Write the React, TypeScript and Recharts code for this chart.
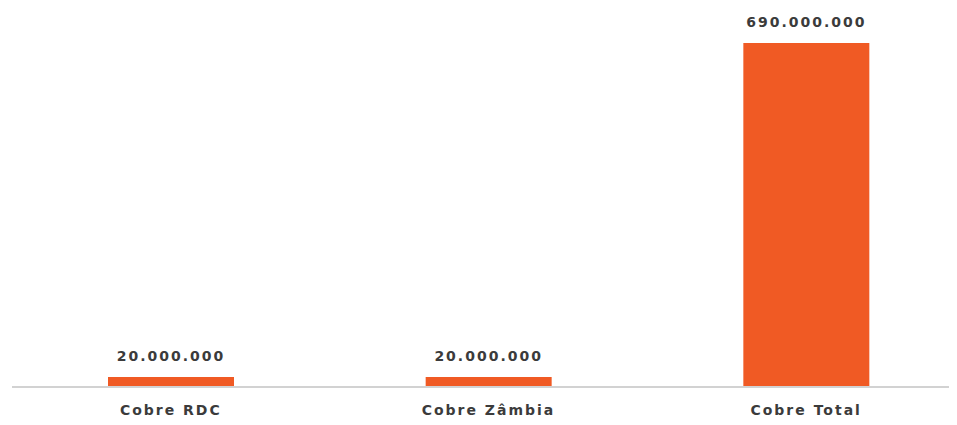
import React from 'react';
import { BarChart, Bar, XAxis, YAxis, LabelList } from 'recharts';

const categories = ['Cobre RDC', 'Cobre Zâmbia', 'Cobre Total'];
const values = [20000000, 20000000, 690000000];

const data = categories.map((name, i) => ({ name, value: values[i] }));

const formatDots = (v: number) => String(v).replace(/\B(?=(\d{3})+(?!\d))/g, '.');

const textStyle = {
  fontFamily: '"DejaVu Sans", sans-serif',
  fontSize: 14,
  fontWeight: 700,
  fill: '#3b3b3b',
  letterSpacing: 2,
};

export default function App() {
  return (
    <div style={{ width: 957, height: 417, background: '#fff' }}>
      <BarChart
        width={957}
        height={417}
        data={data}
        margin={{ top: 35, right: 0, bottom: 0, left: 4 }}
        barSize={126}
      >
        <XAxis
          dataKey="name"
          axisLine={{ stroke: '#d2d2d2', strokeWidth: 2 }}
          tickLine={false}
          tickSize={0}
          tickMargin={18}
          height={38}
          interval={0}
          tick={textStyle}
        />
        <YAxis hide domain={[0, 690000000]} />
        <Bar dataKey="value" fill="#f05a24" isAnimationActive={false}>
          <LabelList
            dataKey="value"
            position="top"
            offset={16}
            formatter={(v: any) => formatDots(Number(v))}
            style={textStyle}
          />
        </Bar>
      </BarChart>
    </div>
  );
}
